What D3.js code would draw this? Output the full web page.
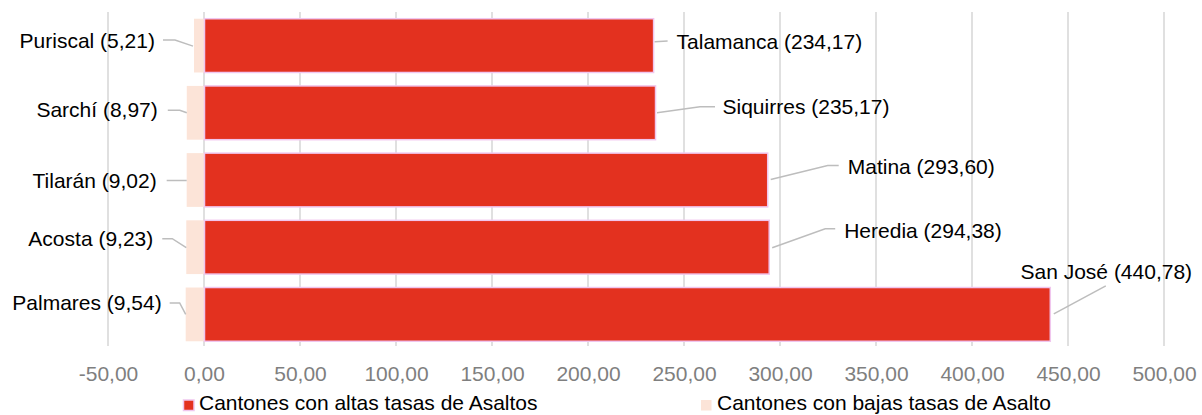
<!DOCTYPE html>
<html>
<head>
<meta charset="utf-8">
<script src="https://cdn.jsdelivr.net/npm/d3@7"></script>
<style>
  html, body { margin: 0; padding: 0; background: #fff; }
  svg { display: block; font-family: "Liberation Sans", Arial, sans-serif; }
</style>
</head>
<body>
<svg id="chart" width="1202" height="415"></svg>
<script>
// ---- data ----
const rows = ["r1", "r2", "r3", "r4", "r5"];
const highNames = ["Talamanca", "Siquirres", "Matina", "Heredia", "San José"];
const highValues = [234.17, 235.17, 293.60, 294.38, 440.78];
const lowNames = ["Puriscal", "Sarchí", "Tilarán", "Acosta", "Palmares"];
const lowValues = [5.21, 8.97, 9.02, 9.23, 9.54];
const tickValues = [-50, 0, 50, 100, 150, 200, 250, 300, 350, 400, 450, 500];
const legendLabels = ["Cantones con altas tasas de Asaltos", "Cantones con bajas tasas de Asalto"];

// ---- label layout (offsets relative to bar end, in px) ----
const lowLabelLayout = [
  { dx: -39, dy: -5.5, line: [[-31, -5.5], [-19, -5.5], [-1, 0.5]] },
  { dx: -29, dy: -3,   line: [[-19, -2.5], [-7, -2.5], [0, 0]] },
  { dx: -30, dy: 0.5,  line: [[-20, 0.5], [0, 0.5]] },
  { dx: -33, dy: -8.5, line: [[-24, -8.5], [-14, -8.5], [0, 0.5]] },
  { dx: -24, dy: -11.5, line: [[-16, -11.5], [-6, -11.5], [0, 0]] }
];
const highLabelLayout = [
  { dx: 23, dy: -4, anchor: "start", line: [[1, -3.8], [14, -4.5]] },
  { dx: 67, dy: -6, anchor: "start", line: [[1.5, 0], [44.5, -6], [59.5, -6]] },
  { dx: 80, dy: -13.5, anchor: "start", line: [[3, -0.5], [60, -14.5], [71, -14.5]] },
  { dx: 75, dy: -16.5, anchor: "start", line: [[3, 0.5], [56, -18.5], [66, -18.5]] },
  { dx: 56, dy: -42.5, anchor: "middle", line: [[3.5, -0.5], [55.5, -28.5]] }
];

const fmt = v => d3.format(".2f")(v).replace(".", ",").replace("\u2212", "-");

const svg = d3.select("#chart");
const x = d3.scaleLinear().domain([-50, 500]).range([108, 1164]);
const y = d3.scaleBand().domain(rows).range([12, 348]).paddingInner(0.2).paddingOuter(0.1);
const plotTop = 12, plotBottom = 346;

const RED = "#e3311f", RED_STROKE = "#f0c6ee", BEIGE = "#fce4d8", GRID = "#d9d9d9", LEADER = "#bdbdbd";

// gridlines
svg.append("g").selectAll("line").data(tickValues).join("line")
  .attr("x1", d => x(d)).attr("x2", d => x(d))
  .attr("y1", plotTop).attr("y2", plotBottom)
  .attr("stroke", GRID).attr("stroke-width", 1.6);

// axis labels
const axis = d3.axisBottom(x).tickValues(tickValues).tickFormat(fmt).tickSize(0).tickPadding(0);
const axG = svg.append("g").attr("transform", `translate(0,${plotBottom})`).call(axis);
axG.select(".domain").remove();
axG.selectAll("text").attr("font-size", 21).attr("fill", "#7f7f7f")
  .attr("font-family", "'Liberation Sans', Arial, sans-serif")
  .attr("dy", null).attr("y", 35);

// low bars (drawn negative)
svg.append("g").selectAll("rect").data(lowValues).join("rect")
  .attr("x", d => x(-d)).attr("width", d => x(0) - x(-d))
  .attr("y", (d, i) => y(rows[i])).attr("height", y.bandwidth())
  .attr("fill", BEIGE);

// high bars
svg.append("g").selectAll("rect").data(highValues).join("rect")
  .attr("x", x(0) + 0.5).attr("width", d => x(d) - x(0) - 0.5)
  .attr("y", (d, i) => y(rows[i])).attr("height", y.bandwidth())
  .attr("fill", RED).attr("stroke", RED_STROKE).attr("stroke-width", 1.5);

const lineGen = d3.line();

// low labels
lowValues.forEach((v, i) => {
  const bx = x(-v), yc = y(rows[i]) + y.bandwidth() / 2, L = lowLabelLayout[i];
  svg.append("path")
    .attr("d", lineGen(L.line.map(p => [bx + p[0], yc + p[1]])))
    .attr("fill", "none").attr("stroke", LEADER).attr("stroke-width", 1.5);
  svg.append("text")
    .attr("x", bx + L.dx).attr("y", yc + L.dy).attr("dy", "0.36em")
    .attr("text-anchor", "end").attr("font-size", 21).attr("fill", "#000")
    .text(`${lowNames[i]} (${fmt(v)})`);
});

// high labels
highValues.forEach((v, i) => {
  const bx = x(v), yc = y(rows[i]) + y.bandwidth() / 2, L = highLabelLayout[i];
  svg.append("path")
    .attr("d", lineGen(L.line.map(p => [bx + p[0], yc + p[1]])))
    .attr("fill", "none").attr("stroke", LEADER).attr("stroke-width", 1.5);
  svg.append("text")
    .attr("x", bx + L.dx).attr("y", yc + L.dy).attr("dy", "0.36em")
    .attr("text-anchor", L.anchor).attr("font-size", 21).attr("fill", "#000")
    .text(`${highNames[i]} (${fmt(v)})`);
});

// legend
const legendItems = [
  { label: legendLabels[0], fill: RED, stroke: RED_STROKE, mx: 183.5, tx: 199 },
  { label: legendLabels[1], fill: BEIGE, stroke: "none", mx: 701, tx: 717 }
];
const lg = svg.append("g");
legendItems.forEach(it => {
  lg.append("rect").attr("x", it.mx).attr("y", 400).attr("width", 10.5).attr("height", 10.5)
    .attr("fill", it.fill).attr("stroke", it.stroke).attr("stroke-width", 1.5);
  lg.append("text").attr("x", it.tx).attr("y", 410).attr("font-size", 21).attr("fill", "#000")
    .text(it.label);
});
</script>
</body>
</html>
